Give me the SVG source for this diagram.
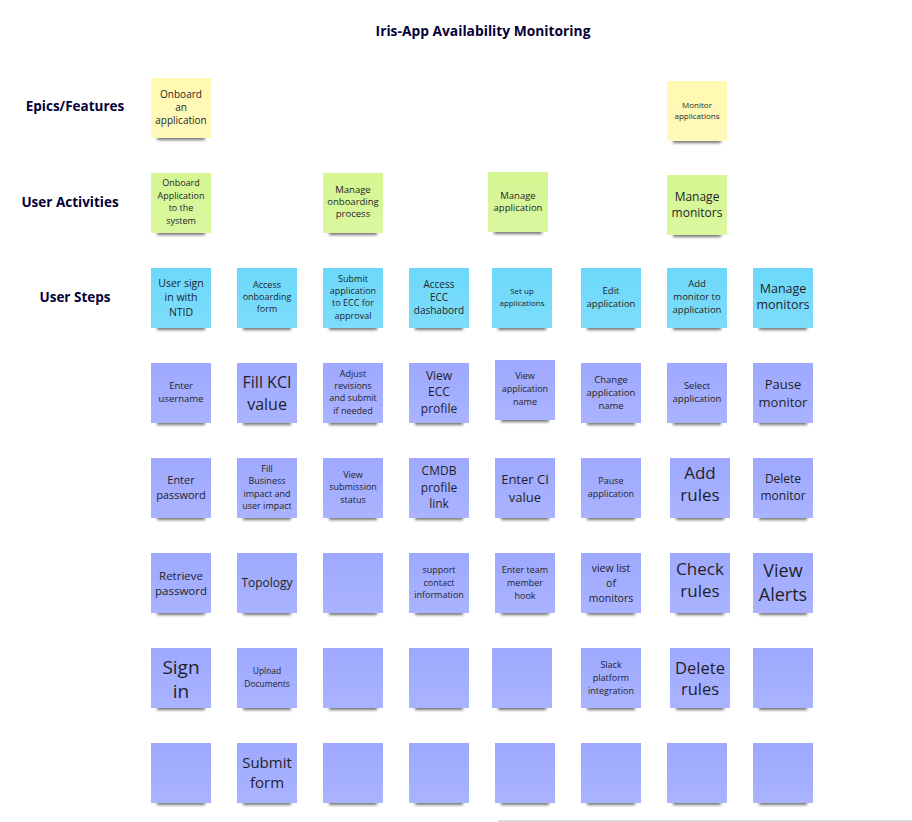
<svg xmlns="http://www.w3.org/2000/svg" width="912" height="822" viewBox="0 0 912 822">
<defs>
<filter id="blur" x="-20%" y="-100%" width="140%" height="300%"><feGaussianBlur stdDeviation="1.5"/></filter>
<linearGradient id="gloss" x1="0" y1="0" x2="0" y2="1"><stop offset="0" stop-color="#fff" stop-opacity="0"/><stop offset="1" stop-color="#fff" stop-opacity="0.12"/></linearGradient>
<style>
.sh{fill:#000;opacity:0.55;filter:url(#blur)}
.y .bg{fill:#fff9b1}
.g .bg{fill:#d5f692}
.c .bg{fill:#6cd8fa}
.v .bg{fill:#9ea9ff}
.gl{fill:url(#gloss)}
.note text{font-family:"Open Sans","Noto Sans","Liberation Sans",sans-serif;fill:#1f1f2a;text-anchor:middle}
.lbl{font-family:"Open Sans","Noto Sans","Liberation Sans",sans-serif;font-weight:700;fill:#050038;text-anchor:middle}
</style>
</defs>
<rect width="912" height="822" fill="#fff"/>
<text class="lbl" x="483" y="36" font-size="13.8">Iris-App Availability Monitoring</text>
<text class="lbl" x="75" y="111" font-size="13.5">Epics/Features</text>
<text class="lbl" x="70" y="207" font-size="13.5">User Activities</text>
<text class="lbl" x="75" y="302" font-size="13.5">User Steps</text>

<g id="connectors"></g>

<!-- Row 1: Epics -->
<g id="epic-onboard" class="note y"><rect class="sh" x="157" y="133" width="48" height="7"/><rect class="bg" x="151" y="78" width="60" height="60"/><rect class="gl" x="151" y="78" width="60" height="60"/><text font-size="10"><tspan x="181" y="97.5">Onboard</tspan><tspan x="181" y="110.5">an</tspan><tspan x="181" y="123.5">application</tspan></text></g>
<g id="epic-monitor" class="note y"><rect class="sh" x="673" y="136" width="48" height="7"/><rect class="bg" x="667" y="81" width="60" height="60"/><rect class="gl" x="667" y="81" width="60" height="60"/><text font-size="8"><tspan x="697" y="108">Monitor</tspan><tspan x="697" y="119">applications</tspan></text></g>

<!-- Row 2: Activities -->
<g id="act-onboard" class="note g"><rect class="sh" x="157" y="228" width="48" height="7"/><rect class="bg" x="151" y="173" width="60" height="60"/><rect class="gl" x="151" y="173" width="60" height="60"/><text font-size="9"><tspan x="181" y="186">Onboard</tspan><tspan x="181" y="199">Application</tspan><tspan x="181" y="211">to the</tspan><tspan x="181" y="224">system</tspan></text></g>
<g id="act-manage-onboarding" class="note g"><rect class="sh" x="329" y="228" width="48" height="7"/><rect class="bg" x="323" y="173" width="60" height="60"/><rect class="gl" x="323" y="173" width="60" height="60"/><text font-size="9.5"><tspan x="353" y="193">Manage</tspan><tspan x="353" y="205">onboarding</tspan><tspan x="353" y="217">process</tspan></text></g>
<g id="act-manage-app" class="note g"><rect class="sh" x="494" y="227" width="48" height="7"/><rect class="bg" x="488" y="172" width="60" height="60"/><rect class="gl" x="488" y="172" width="60" height="60"/><text font-size="9.5"><tspan x="518" y="199">Manage</tspan><tspan x="518" y="211">application</tspan></text></g>
<g id="act-manage-monitors" class="note g"><rect class="sh" x="673" y="230" width="48" height="7"/><rect class="bg" x="667" y="175" width="60" height="60"/><rect class="gl" x="667" y="175" width="60" height="60"/><text font-size="12"><tspan x="697" y="201">Manage</tspan><tspan x="697" y="217">monitors</tspan></text></g>

<!-- Row 3: User steps -->
<g id="s-signin" class="note c"><rect class="sh" x="157" y="323" width="48" height="7"/><rect class="bg" x="151" y="268" width="60" height="60"/><rect class="gl" x="151" y="268" width="60" height="60"/><text font-size="10.5"><tspan x="181" y="286.5">User sign</tspan><tspan x="181" y="301">in with</tspan><tspan x="181" y="315.5">NTID</tspan></text></g>
<g id="s-access-form" class="note c"><rect class="sh" x="243" y="323" width="48" height="7"/><rect class="bg" x="237" y="268" width="60" height="60"/><rect class="gl" x="237" y="268" width="60" height="60"/><text font-size="9"><tspan x="267" y="288">Access</tspan><tspan x="267" y="300">onboarding</tspan><tspan x="267" y="312">form</tspan></text></g>
<g id="s-submit" class="note c"><rect class="sh" x="329" y="323" width="48" height="7"/><rect class="bg" x="323" y="268" width="60" height="60"/><rect class="gl" x="323" y="268" width="60" height="60"/><text font-size="9"><tspan x="353" y="282">Submit</tspan><tspan x="353" y="294">application</tspan><tspan x="353" y="306">to ECC for</tspan><tspan x="353" y="319">approval</tspan></text></g>
<g id="s-ecc" class="note c"><rect class="sh" x="415" y="323" width="48" height="7"/><rect class="bg" x="409" y="268" width="60" height="60"/><rect class="gl" x="409" y="268" width="60" height="60"/><text font-size="10"><tspan x="439" y="287.5">Access</tspan><tspan x="439" y="300.5">ECC</tspan><tspan x="439" y="313.5">dashabord</tspan></text></g>
<g id="s-setup" class="note c"><rect class="sh" x="498" y="323" width="48" height="7"/><rect class="bg" x="492" y="268" width="60" height="60"/><rect class="gl" x="492" y="268" width="60" height="60"/><text font-size="8"><tspan x="522" y="294">Set up</tspan><tspan x="522" y="306">applications</tspan></text></g>
<g id="s-edit" class="note c"><rect class="sh" x="587" y="323" width="48" height="7"/><rect class="bg" x="581" y="268" width="60" height="60"/><rect class="gl" x="581" y="268" width="60" height="60"/><text font-size="9.5"><tspan x="611" y="294">Edit</tspan><tspan x="611" y="307">application</tspan></text></g>
<g id="s-add-monitor" class="note c"><rect class="sh" x="673" y="323" width="48" height="7"/><rect class="bg" x="667" y="268" width="60" height="60"/><rect class="gl" x="667" y="268" width="60" height="60"/><text font-size="9.5"><tspan x="697" y="287">Add</tspan><tspan x="697" y="300">monitor to</tspan><tspan x="697" y="313">application</tspan></text></g>
<g id="s-manage-monitors" class="note c"><rect class="sh" x="759" y="323" width="48" height="7"/><rect class="bg" x="753" y="268" width="60" height="60"/><rect class="gl" x="753" y="268" width="60" height="60"/><text font-size="12.5"><tspan x="783" y="293">Manage</tspan><tspan x="783" y="309">monitors</tspan></text></g>

<!-- Row 4 -->
<g id="r4c1" class="note v"><rect class="sh" x="157" y="418" width="48" height="7"/><rect class="bg" x="151" y="363" width="60" height="60"/><rect class="gl" x="151" y="363" width="60" height="60"/><text font-size="9.5"><tspan x="181" y="389">Enter</tspan><tspan x="181" y="402">username</tspan></text></g>
<g id="r4c2" class="note v"><rect class="sh" x="243" y="418" width="48" height="7"/><rect class="bg" x="237" y="363" width="60" height="60"/><rect class="gl" x="237" y="363" width="60" height="60"/><text font-size="16"><tspan x="267" y="388">Fill KCI</tspan><tspan x="267" y="410">value</tspan></text></g>
<g id="r4c3" class="note v"><rect class="sh" x="329" y="418" width="48" height="7"/><rect class="bg" x="323" y="363" width="60" height="60"/><rect class="gl" x="323" y="363" width="60" height="60"/><text font-size="9"><tspan x="353" y="377">Adjust</tspan><tspan x="353" y="389">revisions</tspan><tspan x="353" y="401">and submit</tspan><tspan x="353" y="414">if needed</tspan></text></g>
<g id="r4c4" class="note v"><rect class="sh" x="415" y="418" width="48" height="7"/><rect class="bg" x="409" y="363" width="60" height="60"/><rect class="gl" x="409" y="363" width="60" height="60"/><text font-size="12"><tspan x="439" y="379.5">View</tspan><tspan x="439" y="396">ECC</tspan><tspan x="439" y="412.5">profile</tspan></text></g>
<g id="r4c5" class="note v"><rect class="sh" x="501" y="415" width="48" height="7"/><rect class="bg" x="495" y="360" width="60" height="60"/><rect class="gl" x="495" y="360" width="60" height="60"/><text font-size="9"><tspan x="525" y="379">View</tspan><tspan x="525" y="392">application</tspan><tspan x="525" y="405">name</tspan></text></g>
<g id="r4c6" class="note v"><rect class="sh" x="587" y="418" width="48" height="7"/><rect class="bg" x="581" y="363" width="60" height="60"/><rect class="gl" x="581" y="363" width="60" height="60"/><text font-size="9.5"><tspan x="611" y="383">Change</tspan><tspan x="611" y="396">application</tspan><tspan x="611" y="409">name</tspan></text></g>
<g id="r4c7" class="note v"><rect class="sh" x="673" y="418" width="48" height="7"/><rect class="bg" x="667" y="363" width="60" height="60"/><rect class="gl" x="667" y="363" width="60" height="60"/><text font-size="9.5"><tspan x="697" y="389">Select</tspan><tspan x="697" y="402">application</tspan></text></g>
<g id="r4c8" class="note v"><rect class="sh" x="759" y="418" width="48" height="7"/><rect class="bg" x="753" y="363" width="60" height="60"/><rect class="gl" x="753" y="363" width="60" height="60"/><text font-size="13"><tspan x="783" y="388.5">Pause</tspan><tspan x="783" y="406.5">monitor</tspan></text></g>

<!-- Row 5 -->
<g id="r5c1" class="note v"><rect class="sh" x="157" y="513" width="48" height="7"/><rect class="bg" x="151" y="458" width="60" height="60"/><rect class="gl" x="151" y="458" width="60" height="60"/><text font-size="11"><tspan x="181" y="484">Enter</tspan><tspan x="181" y="498.5">password</tspan></text></g>
<g id="r5c2" class="note v"><rect class="sh" x="243" y="513" width="48" height="7"/><rect class="bg" x="237" y="458" width="60" height="60"/><rect class="gl" x="237" y="458" width="60" height="60"/><text font-size="9"><tspan x="267" y="472">Fill</tspan><tspan x="267" y="484">Business</tspan><tspan x="267" y="497">impact and</tspan><tspan x="267" y="509">user impact</tspan></text></g>
<g id="r5c3" class="note v"><rect class="sh" x="329" y="513" width="48" height="7"/><rect class="bg" x="323" y="458" width="60" height="60"/><rect class="gl" x="323" y="458" width="60" height="60"/><text font-size="9"><tspan x="353" y="478">View</tspan><tspan x="353" y="490">submission</tspan><tspan x="353" y="503">status</tspan></text></g>
<g id="r5c4" class="note v"><rect class="sh" x="415" y="513" width="48" height="7"/><rect class="bg" x="409" y="458" width="60" height="60"/><rect class="gl" x="409" y="458" width="60" height="60"/><text font-size="12"><tspan x="439" y="475">CMDB</tspan><tspan x="439" y="491.5">profile</tspan><tspan x="439" y="508">link</tspan></text></g>
<g id="r5c5" class="note v"><rect class="sh" x="501" y="513" width="48" height="7"/><rect class="bg" x="495" y="458" width="60" height="60"/><rect class="gl" x="495" y="458" width="60" height="60"/><text font-size="13"><tspan x="525" y="483.5">Enter CI</tspan><tspan x="525" y="501.5">value</tspan></text></g>
<g id="r5c6" class="note v"><rect class="sh" x="587" y="513" width="48" height="7"/><rect class="bg" x="581" y="458" width="60" height="60"/><rect class="gl" x="581" y="458" width="60" height="60"/><text font-size="9"><tspan x="611" y="484">Pause</tspan><tspan x="611" y="497">application</tspan></text></g>
<g id="r5c7" class="note v"><rect class="sh" x="676" y="513" width="48" height="7"/><rect class="bg" x="670" y="458" width="60" height="60"/><rect class="gl" x="670" y="458" width="60" height="60"/><text font-size="17"><tspan x="700" y="479">Add</tspan><tspan x="700" y="501">rules</tspan></text></g>
<g id="r5c8" class="note v"><rect class="sh" x="759" y="513" width="48" height="7"/><rect class="bg" x="753" y="458" width="60" height="60"/><rect class="gl" x="753" y="458" width="60" height="60"/><text font-size="12"><tspan x="783" y="483">Delete</tspan><tspan x="783" y="500">monitor</tspan></text></g>

<!-- Row 6 -->
<g id="r6c1" class="note v"><rect class="sh" x="157" y="608" width="48" height="7"/><rect class="bg" x="151" y="553" width="60" height="60"/><rect class="gl" x="151" y="553" width="60" height="60"/><text font-size="11.5"><tspan x="181" y="580">Retrieve</tspan><tspan x="181" y="595">password</tspan></text></g>
<g id="r6c2" class="note v"><rect class="sh" x="243" y="608" width="48" height="7"/><rect class="bg" x="237" y="553" width="60" height="60"/><rect class="gl" x="237" y="553" width="60" height="60"/><text font-size="12"><tspan x="267" y="587">Topology</tspan></text></g>
<g id="r6c3" class="note v"><rect class="sh" x="329" y="608" width="48" height="7"/><rect class="bg" x="323" y="553" width="60" height="60"/><rect class="gl" x="323" y="553" width="60" height="60"/></g>
<g id="r6c4" class="note v"><rect class="sh" x="415" y="608" width="48" height="7"/><rect class="bg" x="409" y="553" width="60" height="60"/><rect class="gl" x="409" y="553" width="60" height="60"/><text font-size="9"><tspan x="439" y="573">support</tspan><tspan x="439" y="586">contact</tspan><tspan x="439" y="598">information</tspan></text></g>
<g id="r6c5" class="note v"><rect class="sh" x="501" y="608" width="48" height="7"/><rect class="bg" x="495" y="553" width="60" height="60"/><rect class="gl" x="495" y="553" width="60" height="60"/><text font-size="9"><tspan x="525" y="573">Enter team</tspan><tspan x="525" y="586">member</tspan><tspan x="525" y="599">hook</tspan></text></g>
<g id="r6c6" class="note v"><rect class="sh" x="587" y="608" width="48" height="7"/><rect class="bg" x="581" y="553" width="60" height="60"/><rect class="gl" x="581" y="553" width="60" height="60"/><text font-size="10.5"><tspan x="611" y="571.5">view list</tspan><tspan x="611" y="586.5">of</tspan><tspan x="611" y="601.5">monitors</tspan></text></g>
<g id="r6c7" class="note v"><rect class="sh" x="676" y="608" width="48" height="7"/><rect class="bg" x="670" y="553" width="60" height="60"/><rect class="gl" x="670" y="553" width="60" height="60"/><text font-size="17"><tspan x="700" y="575">Check</tspan><tspan x="700" y="597">rules</tspan></text></g>
<g id="r6c8" class="note v"><rect class="sh" x="759" y="608" width="48" height="7"/><rect class="bg" x="753" y="553" width="60" height="60"/><rect class="gl" x="753" y="553" width="60" height="60"/><text font-size="18"><tspan x="783" y="577">View</tspan><tspan x="783" y="601">Alerts</tspan></text></g>

<!-- Row 7 -->
<g id="r7c1" class="note v"><rect class="sh" x="157" y="703" width="48" height="7"/><rect class="bg" x="151" y="648" width="60" height="60"/><rect class="gl" x="151" y="648" width="60" height="60"/><text font-size="19"><tspan x="181" y="673.5">Sign</tspan><tspan x="181" y="697.5">in</tspan></text></g>
<g id="r7c2" class="note v"><rect class="sh" x="243" y="703" width="48" height="7"/><rect class="bg" x="237" y="648" width="60" height="60"/><rect class="gl" x="237" y="648" width="60" height="60"/><text font-size="8.5"><tspan x="267" y="674">Upload</tspan><tspan x="267" y="687">Documents</tspan></text></g>
<g id="r7c3" class="note v"><rect class="sh" x="329" y="703" width="48" height="7"/><rect class="bg" x="323" y="648" width="60" height="60"/><rect class="gl" x="323" y="648" width="60" height="60"/></g>
<g id="r7c4" class="note v"><rect class="sh" x="415" y="703" width="48" height="7"/><rect class="bg" x="409" y="648" width="60" height="60"/><rect class="gl" x="409" y="648" width="60" height="60"/></g>
<g id="r7c5" class="note v"><rect class="sh" x="498" y="703" width="48" height="7"/><rect class="bg" x="492" y="648" width="60" height="60"/><rect class="gl" x="492" y="648" width="60" height="60"/></g>
<g id="r7c6" class="note v"><rect class="sh" x="587" y="703" width="48" height="7"/><rect class="bg" x="581" y="648" width="60" height="60"/><rect class="gl" x="581" y="648" width="60" height="60"/><text font-size="9"><tspan x="611" y="668">Slack</tspan><tspan x="611" y="681">platform</tspan><tspan x="611" y="694">integration</tspan></text></g>
<g id="r7c7" class="note v"><rect class="sh" x="676" y="703" width="48" height="7"/><rect class="bg" x="670" y="648" width="60" height="60"/><rect class="gl" x="670" y="648" width="60" height="60"/><text font-size="16.5"><tspan x="700" y="674">Delete</tspan><tspan x="700" y="695">rules</tspan></text></g>
<g id="r7c8" class="note v"><rect class="sh" x="759" y="703" width="48" height="7"/><rect class="bg" x="753" y="648" width="60" height="60"/><rect class="gl" x="753" y="648" width="60" height="60"/></g>

<!-- Row 8 -->
<g id="r8c1" class="note v"><rect class="sh" x="157" y="798" width="48" height="7"/><rect class="bg" x="151" y="743" width="60" height="60"/><rect class="gl" x="151" y="743" width="60" height="60"/></g>
<g id="r8c2" class="note v"><rect class="sh" x="243" y="798" width="48" height="7"/><rect class="bg" x="237" y="743" width="60" height="60"/><rect class="gl" x="237" y="743" width="60" height="60"/><text font-size="15"><tspan x="267" y="768">Submit</tspan><tspan x="267" y="788">form</tspan></text></g>
<g id="r8c3" class="note v"><rect class="sh" x="329" y="798" width="48" height="7"/><rect class="bg" x="323" y="743" width="60" height="60"/><rect class="gl" x="323" y="743" width="60" height="60"/></g>
<g id="r8c4" class="note v"><rect class="sh" x="415" y="798" width="48" height="7"/><rect class="bg" x="409" y="743" width="60" height="60"/><rect class="gl" x="409" y="743" width="60" height="60"/></g>
<g id="r8c5" class="note v"><rect class="sh" x="501" y="798" width="48" height="7"/><rect class="bg" x="495" y="743" width="60" height="60"/><rect class="gl" x="495" y="743" width="60" height="60"/></g>
<g id="r8c6" class="note v"><rect class="sh" x="587" y="798" width="48" height="7"/><rect class="bg" x="581" y="743" width="60" height="60"/><rect class="gl" x="581" y="743" width="60" height="60"/></g>
<g id="r8c7" class="note v"><rect class="sh" x="673" y="798" width="48" height="7"/><rect class="bg" x="667" y="743" width="60" height="60"/><rect class="gl" x="667" y="743" width="60" height="60"/></g>
<g id="r8c8" class="note v"><rect class="sh" x="759" y="798" width="48" height="7"/><rect class="bg" x="753" y="743" width="60" height="60"/><rect class="gl" x="753" y="743" width="60" height="60"/></g>

<line x1="498" y1="821" x2="912" y2="821" stroke="#b4b4b4" stroke-width="1"/>
</svg>
